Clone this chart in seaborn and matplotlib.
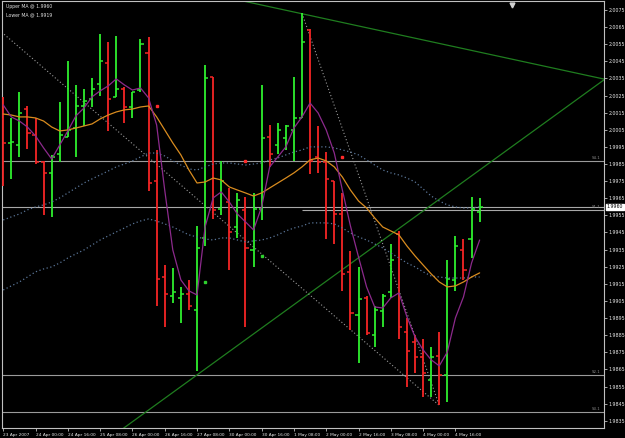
import numpy as np
import pandas as pd
import seaborn as sns
import matplotlib
matplotlib.use("Agg")
import matplotlib.pyplot as plt
import matplotlib.transforms as mtransforms

# H4 bars, 23 Apr 2007 - 4 May 2007
opens = [2.0011, 1.9997, 1.9996, 2.0017, 2.0002, 1.9986, 1.9980, 1.9991, 2.0001, 2.0006,
         2.0019, 2.0023, 2.0032, 2.0044, 2.0024, 2.0029, 2.0018, 2.0028, 2.0050, 1.9975,
         1.9919, 1.9908, 1.9907, 1.9909, 1.9900, 1.9942, 2.0036, 1.9959, 1.9963, 1.9948,
         1.9958, 1.9935, 1.9959, 2.0001, 1.9996, 2.0000, 2.0005, 2.0012, 2.0063, 1.9989,
         1.9986, 1.9975, 1.9956, 1.9922, 1.9897, 1.9907, 1.9885, 1.9899, 1.9910, 1.9944,
         1.9887, 1.9881, 1.9872, 1.9859, 1.9873, 1.9862, 1.9917, 1.9935, 1.9941, 1.9957]
highs = [2.0024, 2.0012, 2.0027, 2.0019, 2.0012, 1.9987, 1.9990, 2.0021, 2.0045, 2.0031,
         2.0029, 2.0035, 2.0061, 2.0056, 2.0060, 2.0030, 2.0027, 2.0058, 2.0059, 1.9993,
         1.9926, 1.9924, 1.9913, 1.9917, 1.9949, 2.0043, 2.0036, 1.9987, 1.9971, 1.9968,
         1.9966, 1.9968, 2.0031, 2.0008, 2.0009, 2.0008, 2.0036, 2.0073, 2.0064, 2.0007,
         1.9992, 1.9975, 1.9968, 1.9934, 1.9925, 1.9908, 1.9902, 1.9909, 1.9938, 1.9946,
         1.9895, 1.9885, 1.9883, 1.9878, 1.9887, 1.9929, 1.9943, 1.9941, 1.9966, 1.9965]
lows = [1.9972, 1.9976, 1.9989, 1.9994, 1.9985, 1.9955, 1.9954, 1.9986, 2.0001, 1.9989,
        2.0007, 2.0018, 2.0025, 2.0004, 2.0024, 2.0009, 2.0012, 2.0027, 1.9969, 1.9902,
        1.9890, 1.9904, 1.9892, 1.9900, 1.9864, 1.9937, 1.9953, 1.9955, 1.9923, 1.9942,
        1.9890, 1.9925, 1.9952, 1.9983, 1.9991, 1.9993, 1.9987, 2.0012, 1.9979, 1.9980,
        1.9941, 1.9938, 1.9911, 1.9888, 1.9869, 1.9885, 1.9878, 1.9890, 1.9907, 1.9883,
        1.9855, 1.9863, 1.9849, 1.9849, 1.9844, 1.9846, 1.9911, 1.9917, 1.9930, 1.9951]
closes = [1.9997, 1.9998, 2.0015, 2.0003, 1.9986, 1.9980, 1.9989, 2.0002, 2.0005, 2.0019,
          2.0022, 2.0029, 2.0045, 2.0023, 2.0029, 2.0018, 2.0027, 2.0055, 1.9974, 1.9918,
          1.9909, 1.9910, 1.9909, 1.9902, 1.9936, 2.0035, 1.9958, 1.9975, 1.9945, 1.9964,
          1.9936, 1.9959, 2.0000, 1.9991, 2.0005, 2.0007, 2.0012, 2.0056, 1.9987, 1.9986,
          1.9976, 1.9956, 1.9921, 1.9898, 1.9906, 1.9886, 1.9900, 1.9908, 1.9929, 1.9890,
          1.9876, 1.9872, 1.9863, 1.9872, 1.9862, 1.9918, 1.9937, 1.9923, 1.9959, 1.9960]

# indicators
ma_slow = [2.00142, 2.00136, 2.00125, 2.00125, 2.00119, 2.00101, 2.00066, 2.00043, 2.00049, 2.00060,
           2.00072, 2.00084, 2.00113, 2.00136, 2.00154, 2.00166, 2.00171, 2.00183, 2.00189, 2.00125,
           2.00049, 1.99973, 1.99903, 1.99815, 1.99739, 1.99745, 1.99768, 1.99757, 1.99716, 1.99698,
           1.99681, 1.99663, 1.99681, 1.99710, 1.99739, 1.99768, 1.99798, 1.99833, 1.99874, 1.99885,
           1.99868, 1.99833, 1.99774, 1.99698, 1.99634, 1.99593, 1.99535, 1.99482, 1.99459, 1.99436,
           1.99371, 1.99313, 1.99260, 1.99208, 1.99161, 1.99132, 1.99138, 1.99161, 1.99190, 1.99214]
ma_fast = [2.00195, 2.00125, 2.00101, 2.00066, 2.00014, 1.99944, 1.99879, 1.99961, 2.00043, 2.00131,
           2.00177, 2.00242, 2.00277, 2.00306, 2.00347, 2.00312, 2.00282, 2.00294, 2.00236, 2.00078,
           1.99698, 1.99348, 1.99173, 1.99109, 1.99085, 1.99482, 1.99652, 1.99687, 1.99628, 1.99558,
           1.99512, 1.99465, 1.99599, 1.99833, 1.99891, 1.99950, 2.00060, 2.00125, 2.00206, 2.00148,
           2.00049, 1.99914, 1.99698, 1.99488, 1.99307, 1.99132, 1.99015, 1.99009, 1.99068, 1.99097,
           1.98957, 1.98840, 1.98764, 1.98706, 1.98671, 1.98752, 1.98951, 1.99074, 1.99272, 1.99406]
upper_ma = [1.99523, 1.99541, 1.99558, 1.99582, 1.99599, 1.99611, 1.99628, 1.99652, 1.99681, 1.99710,
            1.99739, 1.99763, 1.99786, 1.99809, 1.99833, 1.99850, 1.99868, 1.99891, 1.99914, 1.99914,
            1.99897, 1.99868, 1.99844, 1.99821, 1.99815, 1.99833, 1.99850, 1.99856, 1.99856, 1.99850,
            1.99844, 1.99850, 1.99856, 1.99874, 1.99885, 1.99903, 1.99920, 1.99932, 1.99950, 1.99950,
            1.99950, 1.99944, 1.99932, 1.99920, 1.99903, 1.99874, 1.99844, 1.99815, 1.99798, 1.99786,
            1.99768, 1.99745, 1.99704, 1.99663, 1.99634, 1.99611, 1.99599, 1.99593, 1.99593, 1.99600]
lower_ma = [1.99114, 1.99138, 1.99161, 1.99190, 1.99220, 1.99237, 1.99249, 1.99272, 1.99301, 1.99325,
            1.99348, 1.99377, 1.99406, 1.99430, 1.99453, 1.99476, 1.99500, 1.99517, 1.99529, 1.99517,
            1.99500, 1.99482, 1.99459, 1.99436, 1.99424, 1.99412, 1.99406, 1.99418, 1.99418, 1.99406,
            1.99395, 1.99401, 1.99406, 1.99418, 1.99436, 1.99459, 1.99476, 1.99488, 1.99506, 1.99506,
            1.99506, 1.99500, 1.99476, 1.99447, 1.99424, 1.99406, 1.99383, 1.99360, 1.99330, 1.99301,
            1.99272, 1.99249, 1.99220, 1.99196, 1.99190, 1.99184, 1.99184, 1.99184, 1.99190, 1.99190]

# signal dots (bar, price)
red_dots = [(19, 2.0019), (30, 1.9987), (42, 1.9989)]
green_dots = [(25, 1.9916), (32, 1.9931)]

# trend lines: ((bar, price), (bar, price))
green_lines = [((29.9, 2.0080), (74.5, 2.00345)), ((14.7, 1.9830), (74.5, 2.00345))]
grey_lines = [((-0.2, 2.0062), (54, 1.9844)), ((37, 2.0073), (54, 1.9844))]

# horizontal levels
levels = [1.9987, 1.9862, 1.9840]
level_names = ["S4.1", "S2.1", "S3.1"]
bid = 1.9960
bid_tag = 1.9958

time_labels = ["23 Apr 2007", "24 Apr 00:00", "24 Apr 16:00", "25 Apr 08:00", "26 Apr 00:00",
               "26 Apr 16:00", "27 Apr 08:00", "30 Apr 00:00", "30 Apr 16:00", "1 May 08:00",
               "2 May 00:00", "2 May 16:00", "3 May 08:00", "4 May 00:00", "4 May 16:00"]
price_ticks = np.round(np.arange(1.9835, 2.0080, 0.001), 4)

df = pd.DataFrame({"open": opens, "high": highs, "low": lows, "close": closes,
                   "ma_slow": ma_slow, "ma_fast": ma_fast,
                   "upper": upper_ma, "lower": lower_ma})
df["bar"] = np.arange(len(df))

sns.set_style("dark", {"axes.facecolor": "black", "figure.facecolor": "black",
                       "axes.edgecolor": "#c0c0c0", "axes.grid": False,
                       "text.color": "#e0e0e0", "xtick.color": "#c0c0c0",
                       "ytick.color": "#c0c0c0"})
plt.rcParams["font.family"] = ["DejaVu Sans"]

fig = plt.figure(figsize=(6.25, 4.38), dpi=100)
ax = fig.add_axes([2 / 625, 10 / 438, 602 / 625, 427 / 438])
right_tf = mtransforms.blended_transform_factory(ax.transAxes, ax.transData)

GREEN, RED = "#2ef02e", "#f52525"
cols = np.where(df["close"] >= df["open"], GREEN, RED)

# level lines
for lv, name in zip(levels, level_names):
    ax.axhline(lv, color="#9a9a9a", lw=0.8, zorder=1)
    ax.text(0.995, lv + 0.00005, name, transform=right_tf,
            ha="right", va="bottom", fontsize=2.8, color="#8a8a8a")
ax.axhline(bid, color="#a8a8a8", lw=0.8, zorder=1)
ax.hlines(bid_tag, 37, 74.5, color="#a8a8a8", lw=0.8, zorder=1)
ax.text(0.995, bid_tag + 0.00005, "S1.1", transform=right_tf,
        ha="right", va="bottom", fontsize=2.8, color="#8a8a8a")

# trend lines
for (x0, y0), (x1, y1) in green_lines:
    ax.plot([x0, x1], [y0, y1], color="#1f7d1f", lw=0.9, zorder=2)
for (x0, y0), (x1, y1) in grey_lines:
    ax.plot([x0, x1], [y0, y1], color="#9a9a9a", lw=0.8, ls=(0, (1, 2)), zorder=2)

# OHLC bars
ax.vlines(df["bar"], df["low"], df["high"], colors=cols, lw=1.3, zorder=3)
ax.hlines(df["open"], df["bar"] - 0.38, df["bar"], colors=cols, lw=1.1, zorder=3)
ax.hlines(df["close"], df["bar"], df["bar"] + 0.38, colors=cols, lw=1.1, zorder=3)

# moving averages
sns.lineplot(data=df, x="bar", y="upper", color="#5a7597", lw=0.9, ls=(0, (1, 2)), ax=ax, legend=False, zorder=4)
sns.lineplot(data=df, x="bar", y="lower", color="#5a7597", lw=0.9, ls=(0, (1, 2)), ax=ax, legend=False, zorder=4)
sns.lineplot(data=df, x="bar", y="ma_slow", color="#d98c1f", lw=0.9, ax=ax, legend=False, zorder=5)
sns.lineplot(data=df, x="bar", y="ma_fast", color="#8c2a8c", lw=0.9, ax=ax, legend=False, zorder=5)

for b, p in red_dots:
    ax.plot(b, p, "s", color="#ff2a2a", ms=2.0, zorder=6)
for b, p in green_dots:
    ax.plot(b, p, "s", color="#2ed02e", ms=1.8, zorder=6)

ax.set_xlim(-0.15, 74.4)
ax.set_ylim(1.98308, 2.00802)
ax.set_xlabel("")
ax.set_ylabel("")

ax.yaxis.tick_right()
ax.set_yticks(price_ticks)
ax.set_yticklabels([f"{t:.4f}" for t in price_ticks])
ax.set_xticks(np.arange(0, 60, 4))
ax.set_xticklabels(time_labels)
for lbl in ax.get_xticklabels():
    lbl.set_horizontalalignment("left")
ax.tick_params(axis="y", right=True, left=False, length=2.5, width=0.6, pad=1,
               labelsize=3.4, labelcolor="#e8e8e8", direction="out")
ax.tick_params(axis="x", bottom=True, length=2.5, width=0.6, pad=0.8,
               labelsize=3.1, labelcolor="#e8e8e8", direction="out")
for s in ax.spines.values():
    s.set_color("#c0c0c0")
    s.set_linewidth(0.8)

# current price tag
ax.text(1.004, bid, f"{bid:.4f}", transform=right_tf,
        ha="left", va="center", fontsize=3.4, color="black",
        bbox=dict(boxstyle="square,pad=0.15", fc="white", ec="white"))

ax.text(0.006, 0.993, "Upper MA @ 1.9960", transform=ax.transAxes, ha="left", va="top",
        fontsize=3.3, color="#e0e0e0")
ax.text(0.006, 0.973, "Lower MA @ 1.9919", transform=ax.transAxes, ha="left", va="top",
        fontsize=3.3, color="#e0e0e0")
# chart shift marker
ax.plot(63, 0.99, "v", color="#d0d0d0", ms=3.5,
        transform=mtransforms.blended_transform_factory(ax.transData, ax.transAxes),
        clip_on=False, zorder=7)

fig.savefig("out.png", dpi=100, facecolor="black")
